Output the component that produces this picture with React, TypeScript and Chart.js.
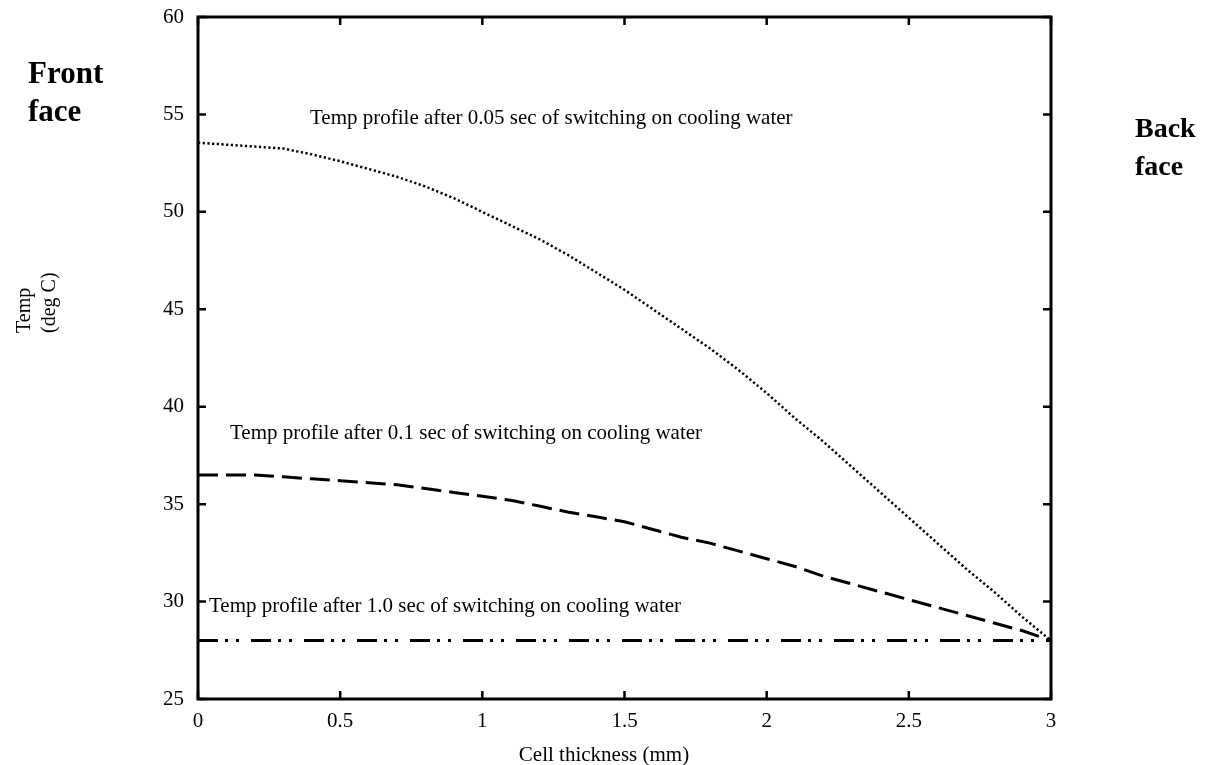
import React, { useEffect, useRef } from "react";
import { Chart, registerables } from "chart.js";

Chart.register(...registerables);

const thickness = [0, 0.1, 0.2, 0.3, 0.4, 0.5, 0.6, 0.7, 0.8, 0.9, 1.0, 1.1, 1.2, 1.3, 1.4, 1.5, 1.6, 1.7, 1.8, 1.9, 2.0, 2.1, 2.2, 2.3, 2.4, 2.5, 2.6, 2.7, 2.8, 2.9, 3.0];
const temp005 = [53.55, 53.45, 53.35, 53.25, 52.95, 52.6, 52.2, 51.8, 51.3, 50.7, 50.0, 49.3, 48.6, 47.8, 46.9, 46.0, 45.0, 44.0, 43.0, 41.9, 40.7, 39.4, 38.2, 36.9, 35.6, 34.3, 33.0, 31.7, 30.5, 29.2, 28.0];
const temp01 = [36.5, 36.5, 36.5, 36.4, 36.3, 36.2, 36.1, 36.0, 35.8, 35.6, 35.4, 35.2, 34.9, 34.6, 34.35, 34.1, 33.7, 33.3, 33.0, 32.6, 32.2, 31.8, 31.3, 30.9, 30.5, 30.1, 29.7, 29.3, 28.9, 28.5, 28.0];
const temp10 = [28, 28, 28, 28, 28, 28, 28, 28, 28, 28, 28, 28, 28, 28, 28, 28, 28, 28, 28, 28, 28, 28, 28, 28, 28, 28, 28, 28, 28, 28, 28];

const seriesNames = ["0.05 sec", "0.1 sec", "1.0 sec"];
const annotations = [
  "Temp profile after 0.05 sec of switching on cooling water",
  "Temp profile after 0.1 sec of switching on cooling water",
  "Temp profile after 1.0 sec of switching on cooling water",
];
const xTitle = "Cell thickness (mm)";
const yTitleLines = ["Temp", "(deg C)"];

const SERIF = "'Liberation Serif', 'Times New Roman', serif";

const toPoints = (ys: number[]) => thickness.map((x, i) => ({ x, y: ys[i] }));

const framePlugin = {
  id: "frame",
  afterDraw(chart: any) {
    const { ctx, chartArea: a, scales } = chart;
    const xs = scales.x;
    const ys = scales.y;
    ctx.save();
    ctx.strokeStyle = "#000";
    ctx.lineWidth = 3;
    ctx.strokeRect(a.left, a.top, a.right - a.left, a.bottom - a.top);
    ctx.lineWidth = 2.5;
    const L = 8;
    ctx.beginPath();
    xs.ticks.forEach((t: any) => {
      const px = xs.getPixelForValue(t.value);
      ctx.moveTo(px, a.bottom);
      ctx.lineTo(px, a.bottom - L);
      ctx.moveTo(px, a.top);
      ctx.lineTo(px, a.top + L);
    });
    ys.ticks.forEach((t: any) => {
      const py = ys.getPixelForValue(t.value);
      ctx.moveTo(a.left, py);
      ctx.lineTo(a.left + L, py);
      ctx.moveTo(a.right, py);
      ctx.lineTo(a.right - L, py);
    });
    ctx.stroke();

    ctx.fillStyle = "#000";
    ctx.textBaseline = "middle";
    ctx.textAlign = "left";
    ctx.font = `21px ${SERIF}`;
    ctx.fillText(annotations[0], 310, 118);
    ctx.fillText(annotations[1], 230, 433);
    ctx.fillText(annotations[2], 209, 606);

    ctx.textAlign = "center";
    ctx.fillText(xTitle, 604, 755);

    ctx.save();
    ctx.translate(25, 333);
    ctx.rotate(-Math.PI / 2);
    ctx.textAlign = "left";
    ctx.font = `20px ${SERIF}`;
    ctx.fillText(yTitleLines[0], 0, 0);
    ctx.fillText(yTitleLines[1], 0, 25);
    ctx.restore();

    ctx.textAlign = "left";
    ctx.font = `bold 31px ${SERIF}`;
    ctx.fillText("Front", 28, 75);
    ctx.fillText("face", 28, 113);
    ctx.font = `bold 28px ${SERIF}`;
    ctx.fillText("Back", 1135, 130);
    ctx.fillText("face", 1135, 168);
    ctx.restore();
  },
};

export default function App() {
  const ref = useRef<HTMLCanvasElement | null>(null);
  useEffect(() => {
    if (!ref.current) return;
    const chart = new Chart(ref.current, {
      type: "line",
      data: {
        datasets: [
          {
            label: seriesNames[0],
            data: toPoints(temp005),
            borderColor: "#000",
            borderWidth: 2.5,
            borderDash: [2.2, 2.5],
            pointRadius: 0,
            tension: 0,
          },
          {
            label: seriesNames[1],
            data: toPoints(temp01),
            borderColor: "#000",
            borderWidth: 3,
            borderDash: [20, 8],
            pointRadius: 0,
            tension: 0,
          },
          {
            label: seriesNames[2],
            data: toPoints(temp10),
            borderColor: "#000",
            borderWidth: 3,
            borderDash: [20, 7, 3, 8, 3, 12],
            pointRadius: 0,
            tension: 0,
          },
        ],
      },
      options: {
        responsive: false,
        animation: false,
        layout: { padding: { left: 0, top: 17, right: 154, bottom: 0 } },
        plugins: { legend: { display: false }, tooltip: { enabled: false } },
        scales: {
          x: {
            type: "linear",
            min: 0,
            max: 3,
            grid: { display: false, drawTicks: false },
            border: { display: false },
            ticks: {
              stepSize: 0.5,
              color: "#000",
              padding: 10,
              maxRotation: 0,
              font: { family: SERIF, size: 21 },
              callback: (v: any) => String(Number(v)),
            },
            afterFit: (s: any) => {
              s.height = 66;
              s.paddingLeft = 0;
              s.paddingRight = 0;
            },
          },
          y: {
            type: "linear",
            min: 25,
            max: 60,
            grid: { display: false, drawTicks: false },
            border: { display: false },
            ticks: {
              stepSize: 5,
              color: "#000",
              padding: 14,
              font: { family: SERIF, size: 21 },
            },
            afterFit: (s: any) => {
              s.width = 198;
              s.paddingTop = 0;
              s.paddingBottom = 0;
            },
          },
        },
      },
      plugins: [framePlugin],
    });
    return () => chart.destroy();
  }, []);
  return (
    <div style={{ position: "absolute", left: 0, top: 0, width: 1205, height: 765, background: "#fff" }}>
      <canvas ref={ref} width={1205} height={765} />
    </div>
  );
}
